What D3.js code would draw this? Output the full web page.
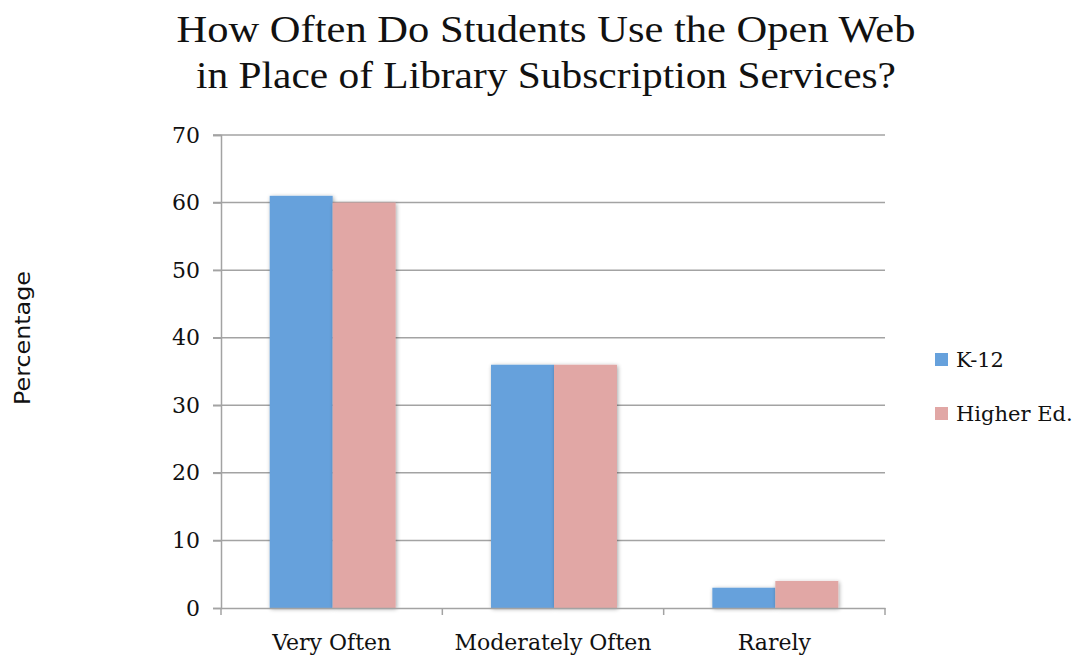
<!DOCTYPE html>
<html><head><meta charset="utf-8">
<script src="https://cdn.jsdelivr.net/npm/d3@7"></script>
<style>body{margin:0;background:#fff}svg{display:block}</style>
</head><body>
<svg id="c" width="1077" height="655"></svg>
<script>
const categories = ["Very Often", "Moderately Often", "Rarely"];
const seriesNames = ["K-12", "Higher Ed."];
const k12 = [61, 36, 3];
const higherEd = [60, 36, 4];
const yTicks = [0, 10, 20, 30, 40, 50, 60, 70];
const titleLines = ["How Often Do Students Use the Open Web", "in Place of Library Subscription Services?"];
const colors = ["#66a1dc", "#e1a7a5"];

const svg = d3.select("#c");
const defs = svg.append("defs");
const f = defs.append("filter").attr("id","sh").attr("x","-20%").attr("y","-20%").attr("width","140%").attr("height","140%");
f.append("feGaussianBlur").attr("in","SourceAlpha").attr("stdDeviation",2);
f.append("feOffset").attr("dx",1).attr("dy",1).attr("result","b");
f.append("feComponentTransfer").append("feFuncA").attr("type","linear").attr("slope",0.35);
const m = f.append("feMerge"); m.append("feMergeNode"); m.append("feMergeNode").attr("in","SourceGraphic");

const x0 = 221, x1 = 885, yb = 608, yt = 135;
const x = d3.scaleBand().domain(categories).range([x0, x1]).paddingInner(0).paddingOuter(0);
const xs = d3.scaleBand().domain(seriesNames).range([0, x.bandwidth()]).paddingInner(0).paddingOuter(0.757);
const y = d3.scaleLinear().domain([0, 70]).range([yb, yt]);

// gridlines
const grid = svg.append("g");
grid.selectAll("line").data(yTicks.filter(d=>d>0)).join("line")
  .attr("x1", x0-8).attr("x2", x1).attr("y1", d=>y(d)).attr("y2", d=>y(d))
  .attr("stroke", "#a3a3a3").attr("stroke-width", 1.5);

// y axis
const ya = svg.append("g").attr("transform", `translate(${x0},0)`)
  .call(d3.axisLeft(y).tickValues(yTicks).tickSize(8).tickPadding(13));
ya.select(".domain").attr("stroke","#a3a3a3").attr("stroke-width",1.5);
ya.selectAll(".tick line").attr("stroke","#a3a3a3").attr("stroke-width",1.5);
ya.selectAll("text").attr("font-family","'DejaVu Serif', serif").attr("font-size",22).attr("fill","#111");

// bars
const data = categories.map((c,i)=>({c, vals:[{s:seriesNames[0], v:k12[i]},{s:seriesNames[1], v:higherEd[i]}]}));
const groups = svg.append("g").selectAll("g").data(data).join("g")
  .attr("transform", d=>`translate(${x(d.c)+1},0)`);
groups.selectAll("rect").data(d=>d.vals).join("rect")
  .attr("x", d=>xs(d.s)).attr("width", xs.bandwidth())
  .attr("y", d=>y(d.v)).attr("height", d=>yb - y(d.v))
  .attr("fill", (d,i)=>colors[i]).attr("filter","url(#sh)");

// x axis
const xa = svg.append("g").attr("transform", `translate(0,${yb})`)
  .call(d3.axisBottom(x).tickSize(0).tickPadding(26));
xa.select(".domain").attr("stroke","#a3a3a3").attr("stroke-width",1.5);
xa.selectAll("text").attr("font-family","'DejaVu Serif', serif").attr("font-size",22).attr("fill","#111");
svg.append("g").selectAll("line").data([x0, ...categories.map(c=>x(c)+x.bandwidth())]).join("line")
  .attr("x1",d=>d).attr("x2",d=>d).attr("y1",yb).attr("y2",yb+7)
  .attr("stroke","#a3a3a3").attr("stroke-width",1.5);

// title
svg.append("g").selectAll("text").data(titleLines).join("text")
  .attr("x", 546).attr("y", (d,i)=>42 + i*46)
  .attr("text-anchor","middle")
  .attr("font-family","'Liberation Serif', serif").attr("font-size",38).attr("fill","#111")
  .attr("textLength",(d,i)=>i===0?739:700).attr("lengthAdjust","spacingAndGlyphs")
  .text(d=>d);

// y label
svg.append("text").attr("transform","translate(30,338) rotate(-90)")
  .attr("text-anchor","middle").attr("font-family","'DejaVu Sans', sans-serif")
  .attr("font-size",21).attr("fill","#111")
  .attr("textLength",134).attr("lengthAdjust","spacingAndGlyphs").text("Percentage");

// legend
const lg = svg.append("g").selectAll("g").data(seriesNames).join("g")
  .attr("transform",(d,i)=>`translate(935,${353 + i*54})`);
lg.append("rect").attr("width",13).attr("height",13).attr("fill",(d,i)=>colors[i]);
lg.append("text").attr("x",21).attr("y",14).attr("font-family","'DejaVu Serif', serif")
  .attr("font-size",21).attr("fill","#111").text(d=>d);
</script>
</body></html>
